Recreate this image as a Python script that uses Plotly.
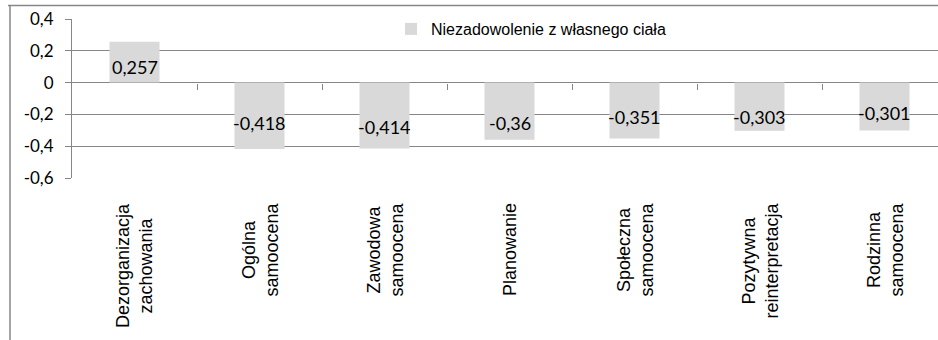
import plotly.graph_objects as go

# ---- data ----
categories = ["Dezorganizacja<br>zachowania", "Ogólna<br>samoocena", "Zawodowa<br>samoocena",
              "Planowanie", "Społeczna<br>samoocena", "Pozytywna<br>reinterpretacja",
              "Rodzinna<br>samoocena"]
values = [0.257, -0.418, -0.414, -0.36, -0.351, -0.303, -0.301]
value_labels = ["0,257", "-0,418", "-0,414", "-0,36", "-0,351", "-0,303", "-0,301"]
series_name = "Niezadowolenie z własnego ciała"
y_tickvals = [-0.6, -0.4, -0.2, 0, 0.2, 0.4]
y_ticktext = ["-0,6", "-0,4", "-0,2", "0", "0,2", "0,4"]

# label placement (data units, as placed in the original chart)
label_y = [0.10, -0.254, -0.279, -0.254, -0.214, -0.214, -0.193]

W, H = 938, 340
ML, MR, MT, MB = 72, 0, 19, 162
PW, PH = W - ML - MR, H - MT - MB
GRAY = "#868686"
BAR = "#d9d9d9"
cat_px = 125.0

idx = list(range(len(categories)))

fig = go.Figure()
fig.add_trace(go.Bar(
    x=idx, y=values, name=series_name, marker=dict(color=BAR, line=dict(width=0)),
    width=0.4, showlegend=True, hoverinfo="skip"))

annotations = []
for i, (lab, ly) in enumerate(zip(value_labels, label_y)):
    annotations.append(dict(x=i, y=ly, xref="x", yref="y", text=lab, showarrow=False,
                            font=dict(family="Lato", size=18, color="#000000"),
                            xanchor="center", yanchor="middle"))
for i, cat in enumerate(categories):
    annotations.append(dict(x=i, y=-23 / PH, xref="x", yref="paper", text=cat, showarrow=False,
                            textangle=-90, align="center", xanchor="center", yanchor="top",
                            font=dict(family="Liberation Sans, Arial", size=18, color="#000000")))

span = PW / cat_px
fig.update_layout(
    width=W, height=H, margin=dict(l=ML, r=MR, t=MT, b=MB, pad=0),
    paper_bgcolor="white", plot_bgcolor="white",
    annotations=annotations,
    xaxis=dict(range=[-0.5, -0.5 + span], tickvals=[i + 0.5 for i in idx[:-1]], ticktext=[""] * (len(idx) - 1),
               ticks="outside", ticklen=6, tickcolor=GRAY, tickwidth=1,
               showgrid=False, zeroline=False, showline=False,
               anchor="free", position=0.6, showticklabels=False),
    yaxis=dict(range=[-0.6, 0.4], tickvals=y_tickvals, ticktext=y_ticktext,
               ticks="outside", ticklen=6, tickcolor=GRAY, tickwidth=1,
               showgrid=True, gridcolor=GRAY, gridwidth=1,
               zeroline=True, zerolinecolor=GRAY, zerolinewidth=1,
               showline=True, linecolor=GRAY, linewidth=1,
               ticklabelstandoff=8,
               tickfont=dict(family="Lato", size=17, color="#000000")),
    legend=dict(x=(391 - ML) / PW, y=(178 - 29) / PH, xanchor="left", yanchor="middle",
                bgcolor="rgba(0,0,0,0)", borderwidth=0,
                font=dict(family="Liberation Sans, Arial", size=16, color="#000000")),
    shapes=[
        dict(type="line", xref="paper", yref="paper",
             x0=(8 - ML) / PW, x1=1.0, y0=(178 - 5.5) / PH, y1=(178 - 5.5) / PH,
             line=dict(color=GRAY, width=1.5)),
        dict(type="line", xref="paper", yref="paper",
             x0=(10 - ML) / PW, x1=(10 - ML) / PW, y0=(178 - 5.5) / PH, y1=(178 - 345) / PH,
             line=dict(color=GRAY, width=1.5)),
    ],
)

fig.write_html("out.html", config={"displayModeBar": False},
               post_script="document.body.style.margin='0';document.body.style.padding='0';")
